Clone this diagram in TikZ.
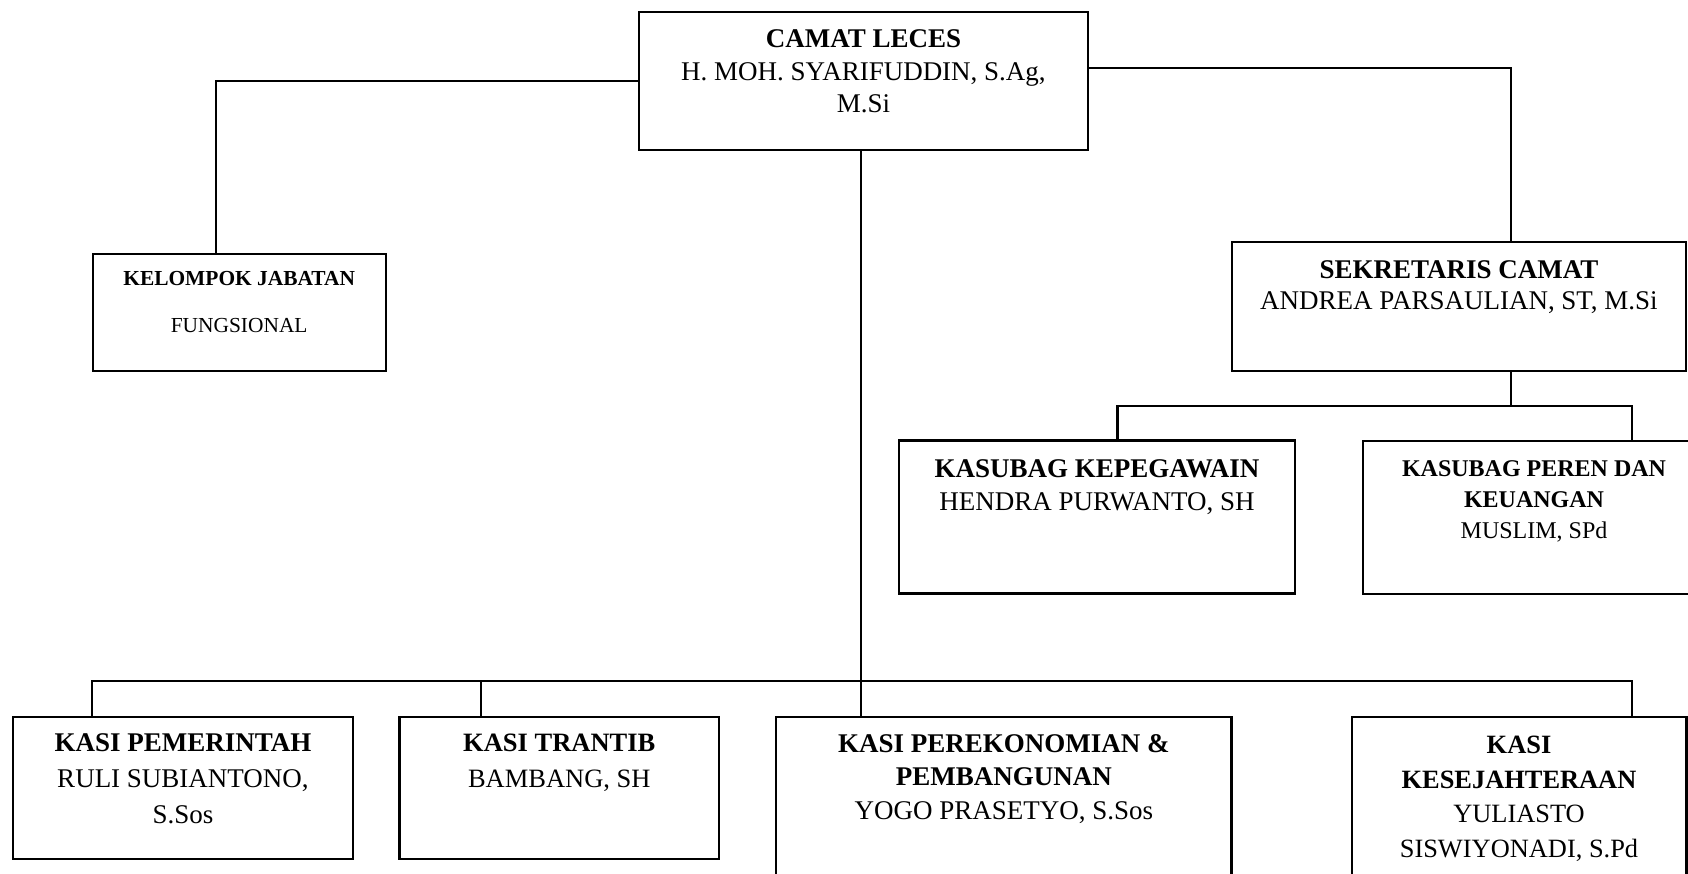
\documentclass[tikz,border=0pt]{standalone}
\usepackage{fontspec}
\setmainfont{Liberation Serif}
\begin{document}
\begin{tikzpicture}[x=1pt,y=-1pt,line width=2.2pt,
  box/.style={draw,rectangle,inner sep=0pt,outer sep=0pt,anchor=north west,line width=2.2pt},
  lbl/.style={anchor=base,align=center,inner sep=0pt},
  big/.style={font=\fontsize{27}{#1}\selectfont},
  conn/.style={line width=2.2pt}]
\useasboundingbox (0,0) rectangle (1688,874);
\clip (0,0) rectangle (1688,874);

% boxes
\node[box,minimum width=449,minimum height=138] (camat) at (639,12) {};
\node[box,minimum width=293,minimum height=117] (kel) at (92.7,254) {};
\node[box,minimum width=453.7,minimum height=128.7] (sek) at (1232.3,242) {};
\node[box,minimum width=396,minimum height=153] (kep) at (899,440.5) {};
\node[box,minimum width=342,minimum height=153.3] (per) at (1363,440.7) {};
\node[box,minimum width=340,minimum height=142.6] (pem) at (13,716.7) {};
\node[box,minimum width=319.7,minimum height=142.6] (tra) at (399.4,716.7) {};
\node[box,minimum width=455.3,minimum height=173.3] (eko) at (776.2,716.7) {};
\node[box,minimum width=334.8,minimum height=173.3] (kes) at (1351.7,716.7) {};

% texts (anchor = baseline of the last line)
\node[lbl,big=32.5] (camatT) at (863.5,113) {\textbf{CAMAT LECES}\\H. MOH. SYARIFUDDIN, S.Ag,\\M.Si};
\node[lbl,font=\fontsize{21.4}{46.3}\selectfont] (kelT) at (239.2,332) {\textbf{KELOMPOK JABATAN}\\FUNGSIONAL};
\node[lbl,big=31] (sekT) at (1459,309.3) {\textbf{SEKRETARIS CAMAT}\\ANDREA PARSAULIAN, ST, M.Si};
\node[lbl,big=33] (kepT) at (1097,510) {\textbf{KASUBAG KEPEGAWAIN}\\HENDRA PURWANTO, SH};
\node[lbl,font=\fontsize{24}{31}\selectfont] (perT) at (1534,538) {\textbf{KASUBAG PEREN DAN}\\\textbf{KEUANGAN}\\MUSLIM, SPd};
\node[lbl,big=35.8] (pemT) at (183,823.3) {\textbf{KASI PEMERINTAH}\\RULI SUBIANTONO,\\S.Sos};
\node[lbl,font=\fontsize{26.5}{35.5}\selectfont] (traT) at (559.3,787.2) {\textbf{KASI TRANTIB}\\BAMBANG, SH};
\node[lbl,big=33.5] (ekoT) at (1003.9,819) {\textbf{KASI PEREKONOMIAN \&}\\\textbf{PEMBANGUNAN}\\YOGO PRASETYO, S.Sos};
\node[lbl,font=\fontsize{26.4}{34.8}\selectfont] (kesT) at (1519,857.7) {\textbf{KASI}\\\textbf{KESEJAHTERAAN}\\YULIASTO\\SISWIYONADI, S.Pd};

% connector points
\coordinate (kelIn) at (216,254);
\coordinate (camR) at (1088,68);
\coordinate (sekIn) at (1511,242);
\coordinate (sekOut) at (1511,370.7);
\coordinate (subBus) at (1511,405.7);
\coordinate (kepIn) at (1117.4,440.5);
\coordinate (perIn) at (1632,440.7);
\coordinate (camOut) at (861,150);
\coordinate (kasiBus) at (861,680.7);
\coordinate (ekoIn) at (861,716.7);
\coordinate (pemIn) at (92.3,716.7);
\coordinate (traIn) at (481.2,716.7);
\coordinate (kesIn) at (1632,716.7);

% connectors
\draw[conn] (camat.west) -| (kelIn);
\draw[conn] (camR) -| (sekIn);
\draw[conn] (sekOut) -- (subBus);
\draw[conn] (kepIn) |- (subBus) -| (perIn);
\draw[conn] (camOut) -- (ekoIn);
\draw[conn] (pemIn) |- (kasiBus) -| (kesIn);
\draw[conn] (traIn) -- (traIn |- kasiBus);
\end{tikzpicture}
\end{document}
